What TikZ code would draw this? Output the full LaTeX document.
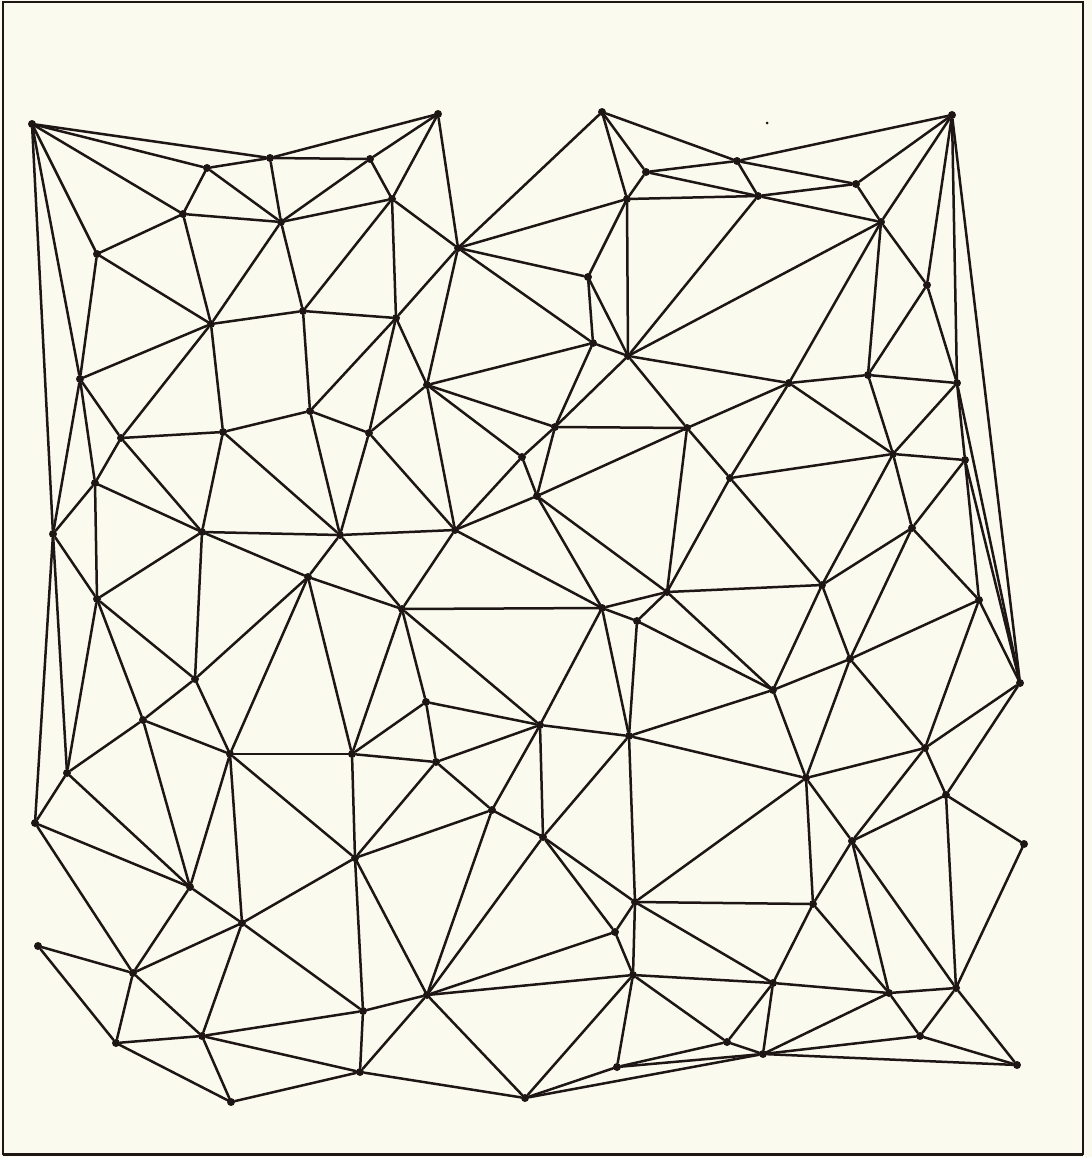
\documentclass[tikz,border=0pt]{standalone}
\begin{document}
\begin{tikzpicture}[x=1pt,y=-1pt,
  dot/.style={circle,fill=ink,inner sep=0pt,minimum size=8pt},
  edge/.style={draw=ink,line width=2.5pt,line cap=round}]
\definecolor{ink}{HTML}{1E1614}
\definecolor{paper}{HTML}{FAFAEE}
\fill[paper] (0,0) rectangle (1092,1157);
\useasboundingbox (0,0) rectangle (1092,1157);
\draw[ink,line width=1.2pt] (3,2) rectangle (1083,1154);
\draw[ink,line width=3pt] (3,1154) -- (1083,1154);
% nodes
\foreach \n/\x/\y in {
a1/32/124, a2/207/168, a3/270/158, a4/370/159, a5/438/114, a6/183/214, a7/281/222,
a8/392/199, a9/97/254, a10/211/324, a11/303/311, a12/396/318, a13/458/248, a14/80/379,
a15/602/112, a16/646/172, a17/737/161, a18/758/196, a19/627/199, a20/856/184, a21/952/115,
a22/881/222, a23/588/277, a24/593/343, a25/628/356, a26/927/285, a27/427/385, a28/789/383,
a29/868/375, a30/957/383,
b1/121/438, b2/223/432, b3/310/411, b4/369/433, b5/95/483, b6/53/534, b7/202/532,
b8/340/535, b9/97/599, b10/308/577, b11/555/427, b12/687/428, b13/522/457, b14/537/496,
b15/455/530, b16/402/609, b17/602/608, b18/667/592, b19/637/621, b20/730/478, b21/893/454,
b22/965/460, b23/912/528, b24/822/585, b25/979/600, b26/1020/683,
c1/195/679, c2/143/720, c3/67/773, c4/35/823, c5/230/754, c6/352/754, c7/190/887,
c8/242/923, c9/355/858, c10/426/702, c11/540/725, c12/629/736, c13/436/762, c14/492/810,
c15/543/837, c16/635/902, c17/773/690, c18/850/659, c19/806/778, c20/925/748, c21/946/795,
c22/852/841, c23/1024/844, c24/813/904,
d1/38/946, d2/133/973, d3/116/1043, d4/202/1036, d5/231/1102, d6/363/1011, d7/360/1072,
d8/427/995, d9/525/1098, d10/615/932, d11/633/975, d12/617/1067, d13/727/1042, d14/773/983,
d15/763/1054, d16/889/993, d17/956/988, d18/920/1036, d19/1017/1065}
  \node[dot] (\n) at (\x,\y) {};
\node[circle,fill=ink,inner sep=0pt,minimum size=3pt] (speck) at (767,123) {};
% edges
\foreach \u/\v in {
a1/a2, a1/a3, a1/a6, a1/a9, a1/a14, a1/b6,
a2/a3, a2/a6, a2/a7,
a3/a4, a3/a5, a3/a7,
a4/a5, a4/a7, a4/a8,
a5/a8, a5/a13,
a6/a7, a6/a9, a6/a10,
a7/a8, a7/a10, a7/a11,
a8/a11, a8/a12, a8/a13,
a9/a10, a9/a14,
a10/a11, a10/a14, a10/b1, a10/b2,
a11/a12, a11/b3,
a12/a13, a12/a27, a12/b3, a12/b4,
a13/a15, a13/a19, a13/a23, a13/a24, a13/a27,
a14/b1, a14/b5, a14/b6,
a15/a16, a15/a17, a15/a19,
a16/a17, a16/a18, a16/a19,
a17/a18, a17/a20, a17/a21,
a18/a19, a18/a20, a18/a22, a18/a25,
a19/a23, a19/a25,
a20/a21, a20/a22,
a21/a22, a21/a26, a21/a30, a21/b26,
a22/a26, a22/a29, a22/a28, a22/a25,
a23/a24, a23/a25,
a24/a25, a24/a27, a24/b11,
a25/a28, a25/b11, a25/b12,
a26/a29, a26/a30,
a27/b4, a27/b11, a27/b13, a27/b15,
a28/a29, a28/b12, a28/b20, a28/b21,
a29/a30, a29/b21,
a30/b21, a30/b22, a30/b26,
b1/b2, b1/b5, b1/b7,
b2/b3, b2/b7, b2/b8,
b3/b4, b3/b8,
b4/b8, b4/b15,
b5/b6, b5/b7, b5/b9,
b6/b9, b6/c3, b6/c4,
b7/b8, b7/b9, b7/b10, b7/c1,
b8/b10, b8/b15, b8/b16,
b9/c1, b9/c2, b9/c3,
b10/b16, b10/c1, b10/c5, b10/c6,
b11/b12, b11/b13, b11/b14,
b12/b14, b12/b18, b12/b20,
b13/b14, b13/b15,
b14/b15, b14/b17, b14/b18,
b15/b16, b15/b17,
b16/b17, b16/c6, b16/c10, b16/c11,
b17/b18, b17/b19, b17/c11, b17/c12,
b18/b19, b18/b20, b18/b24, b18/c17,
b19/c12, b19/c17,
b20/b21, b20/b24,
b21/b22, b21/b23, b21/b24,
b22/b23, b22/b25, b22/b26,
b23/b24, b23/b25, b23/c18,
b24/c17, b24/c18,
b25/c18, b25/c20, b25/b26,
b26/c20, b26/c21,
c1/c2, c1/c5,
c2/c3, c2/c5, c2/c7,
c3/c4, c3/c7,
c4/c7, c4/d2,
c5/c6, c5/c7, c5/c8, c5/c9,
c6/c9, c6/c10, c6/c13,
c7/c8, c7/d2,
c8/c9, c8/d2, c8/d4, c8/d6,
c9/c13, c9/c14, c9/d6, c9/d8,
c10/c11, c10/c13,
c11/c12, c11/c13, c11/c14, c11/c15,
c12/c15, c12/c16, c12/c17, c12/c19,
c13/c14,
c14/c15, c14/d8,
c15/c16, c15/d8, c15/d10,
c16/c19, c16/c24, c16/d10, c16/d11, c16/d14,
c17/c18, c17/c19,
c18/c19, c18/c20,
c19/c20, c19/c22, c19/c24,
c20/c21, c20/c22,
c21/c22, c21/c23, c21/d17,
c22/c24, c22/d16, c22/d17,
c23/d17,
c24/d14, c24/d16,
d1/d2, d1/d3,
d2/d3, d2/d4,
d3/d4, d3/d5,
d4/d5, d4/d6, d4/d7,
d5/d7,
d6/d7, d6/d8,
d7/d8, d7/d9,
d8/d9, d8/d10, d8/d11,
d9/d11, d9/d12, d9/d15,
d10/d11,
d11/d12, d11/d13, d11/d14,
d12/d13, d12/d15,
d13/d14, d13/d15,
d14/d15, d14/d16,
d15/d16, d15/d18, d15/d19,
d16/d17, d16/d18,
d17/d18, d17/d19,
d18/d19}
  \draw[edge] (\u) -- (\v);
\end{tikzpicture}
\end{document}
